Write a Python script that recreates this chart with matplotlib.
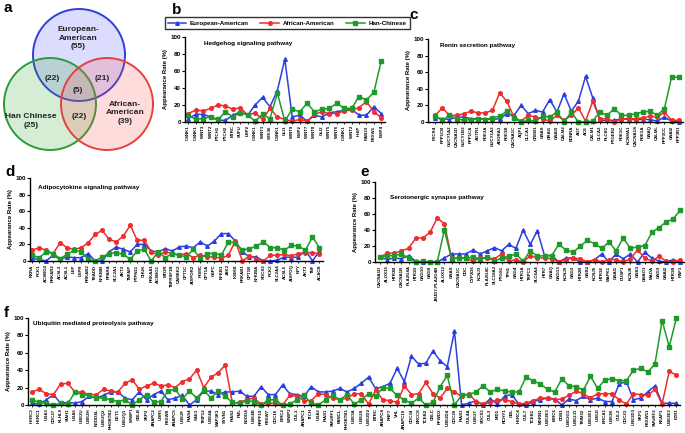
import numpy as np
import matplotlib
matplotlib.use('Agg')
import matplotlib.pyplot as plt
from matplotlib.patches import Circle

plt.rcParams['font.family'] = ['Liberation Sans', 'DejaVu Sans']

# Venn counts
venn_eu, venn_af, venn_cn = 55, 39, 25
venn_eu_cn, venn_eu_af, venn_af_cn, venn_all = 22, 21, 22, 5

# b - Hedgehog signaling pathway
hh_genes = ['CSNK1', 'CSNK1', 'WNT3', 'WNT2', 'PTCH1', 'PTCH2', 'BTRC', 'SUFU', 'LRP2', 'CSNK1',
            'WNT1', 'STK36', 'CSNK1', 'GLI1', 'WNT9', 'BMP2', 'WNT7', 'WNT8', 'GLI2', 'WNT5',
            'WNT6', 'CSNK1', 'WNT2', 'HHIP', 'RAB23', 'FBXW1', 'BMP4']
hh_eu = [4, 9, 9, 6, 2, 2, 8, 12, 8, 20, 29, 18, 37, 74, 6, 8, 1, 8, 6, 11, 12, 14, 15, 8, 8, 18, 10]
hh_af = [10, 14, 13, 16, 20, 19, 15, 17, 8, 11, 3, 16, 6, 3, 1, 3, 1, 9, 12, 10, 10, 13, 14, 17, 24, 12, 5]
hh_cn = [8, 3, 4, 6, 3, 12, 6, 11, 8, 1, 9, 4, 34, 1, 15, 12, 22, 12, 15, 16, 22, 16, 16, 30, 26, 35, 72]

# c - Renin secretion pathway
rn_genes = ['FXCR4', 'PPP1CB', 'GUCY1A2', 'CACNA1D', 'GUCY1B3', 'PPP1CA', 'AGTR1', 'PDE3A', 'GUCY1A3',
            'ADORA1', 'PDE1B', 'CACNA1C', 'AQP1', 'CLCA1', 'CREB1', 'GNAS', 'ORAI1', 'GNAI3', 'CALM2',
            'EDNRA', 'AGT', 'ACE', 'CALM1', 'CLCA2', 'PLCB1', 'PTGER2', 'PDE1C', 'KCNMA1', 'CACNA1S',
            'PDE1A', 'GNAQ', 'CALML', 'PPP3CC', 'GNAI2', 'PPP3R1']
rn_eu = [5, 4, 3, 6, 6, 4, 4, 4, 3, 4, 10, 8, 20, 10, 14, 12, 27, 12, 34, 13, 25, 55, 29,
         2, 2, 2, 4, 3, 3, 3, 3, 1, 6, 1, 0]
rn_af = [8, 17, 8, 8, 10, 13, 11, 11, 14, 35, 25, 6, 1, 8, 6, 4, 1, 8, 2, 8, 17, 1, 25,
         4, 4, 0, 4, 4, 4, 5, 7, 6, 12, 2, 2]
rn_cn = [7, 2, 8, 4, 2, 3, 4, 3, 5, 7, 13, 5, 0, 2, 1, 7, 6, 12, 0, 12, 0, 0, 1,
         12, 8, 16, 8, 8, 10, 12, 13, 8, 16, 54, 54]

# d - Adipocytokine signaling pathway
ad_genes = ['RXRA', 'PCK1', 'ACSBG2', 'PRKAR2', 'ACSL3', 'ACSL1', 'LEP', 'LEPR', 'PRKAB2', 'TRADD',
            'NFKBIB', 'PPARA', 'SLC2A1', 'AKT2', 'TNFAIP', 'PTPN11', 'CHUK', 'PRKAA1', 'ACSBG1', 'MTOR',
            'TNFRSF1B', 'CAMKK2', 'CPT1C', 'ADIPOR2', 'POMC', 'CPT1A', 'G6PC', 'NFKB1', 'JAK2', 'IKBKB',
            'PRKAB1', 'CPT1B', 'NFKBIA', 'SOCS3', 'PCK2', 'SLC2A4', 'ACSL5', 'ADIPOQ', 'NPY', 'AKT3',
            'TNF', 'ACACB']
ad_eu = [3, 2, 0, 7, 2, 5, 4, 4, 9, 0, 0, 11, 17, 14, 11, 20, 20, 12, 11, 15, 12, 17, 18, 16, 23,
         18, 24, 33, 33, 24, 11, 5, 5, 0, 0, 1, 5, 4, 5, 13, 0, 12]
ad_af = [13, 16, 13, 9, 22, 16, 14, 16, 22, 32, 37, 26, 23, 30, 43, 25, 25, 11, 7, 11, 9, 7, 9, 4, 7,
         5, 5, 3, 7, 24, 0, 6, 3, 0, 7, 7, 8, 6, 9, 10, 10, 9]
ad_cn = [7, 4, 11, 9, 3, 8, 13, 11, 2, 0, 5, 9, 10, 8, 2, 12, 14, 0, 11, 4, 9, 7, 5, 14, 3,
         9, 9, 7, 23, 22, 13, 15, 18, 23, 16, 16, 13, 19, 18, 13, 29, 16]

# e - Serotonergic synapse pathway
se_genes = ['CACNA1D', 'ALOX15', 'HTR3B', 'CACNA1B', 'PLA2G4A', 'HTR1D', 'GNG10', 'GNG8',
            'JMJD7-PLA2G4B', 'ALOX12', 'GNAS', 'CACNA1C', 'DDC', 'CYP2D6', 'KCNJ3', 'PLA2G4C',
            'SLC18A2', 'PTGS1', 'TPH1', 'GNG4', 'HTR1A', 'TRPC1', 'SLC6A4', 'HTR7', 'GNAQ', 'GNG13',
            'KCNJ9', 'GNG2', 'HTR2B', 'GNB2', 'KCNJ5', 'HTR1E', 'MAPK1', 'GNAI1', 'DUSP1', 'KCNJ6',
            'GNB3', 'GNAO1', 'MAOA', 'GNG3', 'GNAI2', 'HTR1B', 'RAF1']
se_eu = [6, 3, 5, 4, 8, 1, 0, 0, 0, 5, 10, 10, 10, 15, 10, 14, 18, 14, 22, 17, 40, 22, 39, 8, 8,
         0, 5, 5, 0, 0, 3, 10, 0, 10, 4, 10, 0, 12, 5, 1, 0, 3, 0]
se_af = [6, 11, 11, 14, 17, 30, 30, 37, 55, 48, 5, 5, 5, 1, 5, 5, 4, 10, 1, 3, 0, 8, 5, 5, 4,
         0, 3, 5, 4, 0, 3, 0, 3, 3, 0, 4, 15, 5, 1, 7, 1, 0, 3]
se_cn = [6, 8, 8, 10, 5, 0, 1, 0, 0, 40, 4, 5, 5, 6, 4, 6, 1, 5, 7, 10, 1, 14, 7, 8, 8,
         22, 15, 12, 20, 27, 23, 17, 25, 14, 30, 17, 19, 20, 37, 43, 50, 54, 65]

# f - Ubiquitin mediated proteolysis pathway
ub_genes = ['HERC3', 'HERC1', 'UBA3', 'CDC27', 'KLHL9', 'SIAH1', 'UBA6', 'UBE2U', 'UBE2H', 'NEDD4L',
            'UBE2Q2', 'RHOBTB2', 'DET1', 'UBE2Q1', 'WWP1', 'CBLB', 'SKP2', 'ANAPC2', 'UBR5', 'FBXW8',
            'ANAPC5', 'UBE2F', 'PIAS4', 'SAE1', 'TRIP12', 'UBE4A', 'MAP3K1', 'SYVN1', 'PIAS2', 'PML',
            'NEDD4', 'UBE4B', 'PRPF19', 'FBXW7', 'CDC16', 'BIRC2', 'WWP2', 'CUL1', 'ANAPC1', 'ITCH',
            'UBA2', 'PIAS1', 'SMURF1', 'FANCL', 'RHOBTB1', 'UBE3A', 'UBE2S', 'UBE2D2', 'BTRC', 'ANAPC4',
            'RNF7', 'VHL', 'ANAPC10', 'CDC34', 'ERCC8', 'TCEB2', 'CBLC', 'RFWD2', 'UBE2D4', 'CDC20',
            'PIAS3', 'CUL4A', 'UBE2T', 'SOCS3', 'CUL3', 'MID1', 'RCHY1', 'CBL', 'HERC4', 'CUL7',
            'TCEB1', 'MGRN1', 'UBE2E3', 'BIRC6', 'DDB1', 'UBE2G1', 'UBE2J1', 'TRIM32', 'UBE2E1', 'UBE2I',
            'BRCA1', 'UBE2K', 'CUL2', 'CDC23', 'UBE2D3', 'SKP1', 'FBXW11', 'SMURF2', 'KEAP1', 'UBE2E2',
            'FZR1']
ub_eu = [2, 1, 6, 12, 2, 3, 2, 4, 10, 8, 11, 15, 15, 8, 6, 15, 6, 12, 16, 6, 8, 11, 0, 6, 16,
         16, 12, 15, 15, 16, 10, 10, 21, 12, 12, 23, 13, 12, 10, 21, 15, 15, 16, 19,
         15, 19, 25, 32, 19, 21, 25, 42, 27, 56, 47, 48, 62, 51, 44, 85, 0, 2, 5, 0, 7, 1, 10, 12,
         1, 0, 4, 6, 8, 7, 0, 7, 5, 10, 6, 8, 4, 4, 24, 27, 6, 8, 15, 22, 2, 2, 2]
ub_af = [15, 18, 13, 12, 24, 25, 15, 15, 12, 12, 18, 16, 15, 25, 29, 18, 22, 25, 22, 23, 20, 27, 30,
         40, 20, 32, 37, 46, 2, 3, 6, 8, 1, 2, 2, 0, 11, 10, 5, 5, 13, 12, 8, 6,
         8, 13, 13, 1, 17, 6, 5, 3, 22, 12, 13, 26, 13, 8, 19, 15, 10, 13, 4, 1, 3, 6, 6, 4, 1, 2,
         5, 8, 8, 6, 7, 11, 16, 13, 8, 13, 13, 13, 6, 1, 13, 12, 11, 18, 1, 39, 34]
ub_cn = [6, 3, 2, 0, 2, 1, 15, 12, 11, 8, 8, 6, 4, 6, 0, 6, 12, 3, 4, 16, 18, 7, 16, 8, 17, 8, 16,
         10, 3, 2, 5, 4, 0, 6, 6, 0, 1, 6, 11, 2, 0, 6, 11, 6,
         12, 1, 6, 13, 10, 20, 19, 11, 6, 2, 8, 0, 3, 21, 34, 0, 11, 12, 15, 22, 15, 18, 16, 15, 15,
         32, 28, 24, 18, 15, 30, 22, 21, 17, 33, 19, 29, 30, 28, 28, 40, 42, 38, 47, 97, 67, 100]

BLUE = '#2b3fe0'
RED = '#f02c2c'
GREEN = '#1f9a2a'
W, H = 685, 433

fig = plt.figure(figsize=(W / 100, H / 100), dpi=100)


def px_rect(left, top, right, bottom):
    return [left / W, 1 - bottom / H, (right - left) / W, (bottom - top) / H]


def ftext(x, y, s, **kw):
    fig.text(x / W, 1 - y / H, s, **kw)


# a - Venn diagram
ax = fig.add_axes(px_rect(0, 0, 160, 155))
ax.set_xlim(0, 160)
ax.set_ylim(155, 0)
ax.axis('off')
for (cx, cy), fc, ec in [((79, 55), '#5050ff', '#3040d8'),
                         ((50, 104), '#30a030', '#2e9a3a'),
                         ((107, 104), '#ff5050', '#e84040')]:
    ax.add_patch(Circle((cx, cy), 46, facecolor=fc, alpha=0.2, edgecolor='none'))
    ax.add_patch(Circle((cx, cy), 46, facecolor='none', edgecolor=ec, lw=1.4))
tkw = dict(ha='center', va='center', fontsize=6, fontweight='bold', color='#222222')
ax.text(78, 38, 'European-\nAmerican\n(%d)' % venn_eu, linespacing=1.3, **tkw)
ax.text(52, 78, '(%d)' % venn_eu_cn, **tkw)
ax.text(102, 78, '(%d)' % venn_eu_af, **tkw)
ax.text(78, 90, '(%d)' % venn_all, **tkw)
ax.text(31, 121, 'Han Chinese\n(%d)' % venn_cn, linespacing=1.45, **tkw)
ax.text(79, 117, '(%d)' % venn_af_cn, **tkw)
ax.text(125, 113, 'African-\nAmerican\n(%d)' % venn_af, linespacing=1.3, **tkw)
ftext(3, 8, 'a', fontsize=11, fontweight='bold', va='center')


def panel(rect, genes, eu, af, cn, xlim, title, title_xy, letter, letter_xy):
    ax = fig.add_axes(px_rect(*rect))
    x = np.arange(len(genes))
    ax.plot(x, eu, color=BLUE, marker='^', ms=2.6, lw=1.1, clip_on=False, label='European-American')
    ax.plot(x, af, color=RED, marker='o', ms=2.6, lw=1.1, clip_on=False, label='African-American')
    ax.plot(x, cn, color=GREEN, marker='s', ms=2.6, lw=1.1, clip_on=False, label='Han-Chinese')
    ax.set_xlim(*xlim)
    ax.set_ylim(0, 100)
    ax.set_yticks(range(0, 101, 20))
    ax.set_xticks(x)
    ax.set_xticklabels(genes, rotation=90, fontsize=3.2, fontweight='bold')
    ax.tick_params(axis='y', labelsize=4.5, length=2, width=0.8, pad=1)
    ax.tick_params(axis='x', length=1.5, width=0.6, pad=1)
    for lab in ax.get_yticklabels():
        lab.set_fontweight('bold')
    ax.spines['top'].set_visible(False)
    ax.spines['right'].set_visible(False)
    ax.spines['left'].set_linewidth(1.0)
    ax.spines['bottom'].set_linewidth(1.0)
    ax.set_ylabel('Appearance Rate (%)', fontsize=4.3, fontweight='bold', labelpad=2)
    ftext(title_xy[0], title_xy[1], title, fontsize=4.6, fontweight='bold', va='center')
    ftext(letter_xy[0], letter_xy[1], letter, fontsize=11, fontweight='bold', va='center')
    return ax


ax_b = panel((185, 37, 385, 122), hh_genes, hh_eu, hh_af, hh_cn, (-0.45, 26.5),
             'Hedgehog signaling pathway', (204, 43), 'b', (172, 10))
panel((428, 39, 683, 122), rn_genes, rn_eu, rn_af, rn_cn, (-1.0, 34.6),
      'Renin secretion pathway', (440, 45), 'c', (409, 15))
panel((30, 178, 323, 261), ad_genes, ad_eu, ad_af, ad_cn, (-0.3, 41.5),
      'Adipocytokine signaling pathway', (38, 187), 'd', (5, 172))
panel((375, 182, 684, 262), se_genes, se_eu, se_af, se_cn, (-0.7, 42.5),
      'Serotonergic synapse pathway', (390, 197), 'e', (360, 172))
panel((28, 318, 680, 405), ub_genes, ub_eu, ub_af, ub_cn, (-0.55, 90.5),
      'Ubiquitin mediated proteolysis pathway', (33, 323), 'f', (4, 313))

handles, labels = ax_b.get_legend_handles_labels()
fig.legend(handles, labels, loc='center', bbox_to_anchor=(287 / W, 1 - 23 / H), ncol=3,
           frameon=True, fancybox=False, edgecolor='black', handlelength=3,
           borderpad=0.5, columnspacing=1.8, handletextpad=0.6, prop={'weight': 'bold', 'size': 4.5})

fig.savefig('out.png', dpi=100)
